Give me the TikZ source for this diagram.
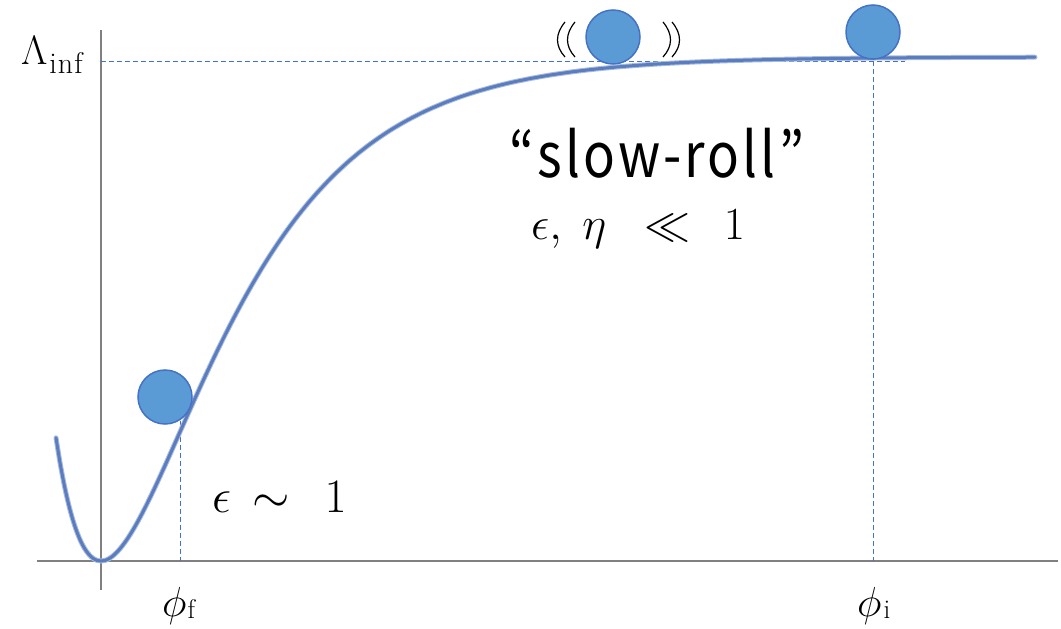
\RequirePackage{fix-cm}
\documentclass[tikz,border=0pt]{standalone}
\usepackage{fontspec}
\newfontfamily\jpfont[LetterSpace=5,FakeStretch=0.85]{Noto Sans CJK JP}
\definecolor{ballfill}{HTML}{5B9BD5}
\definecolor{balledge}{HTML}{4472C4}
\definecolor{curveblue}{HTML}{5B7DBE}
\definecolor{curveglow}{HTML}{A8BCE0}
\definecolor{guideblue}{HTML}{4472C4}
\begin{document}
\begin{tikzpicture}[x=1pt,y=-1pt,
  axis/.style={draw=black!50, line width=1.2pt},
  guide/.style={draw=guideblue, line width=0.9pt, dash pattern=on 5pt off 3pt},
  ball/.style={circle, fill=ballfill, draw=balledge, line width=1.5pt, minimum size=54pt, inner sep=0pt},
  potential/.style={draw=curveblue, line width=3pt, line cap=round},
  glow/.style={draw=curveglow, line width=5pt, line cap=round},
  paren/.style={draw=black, line width=1.2pt},
  lab/.style={inner sep=0pt, font=\fontsize{40}{48}\selectfont}]
\useasboundingbox (0,0) rectangle (1061,629);
% axes
\coordinate (xl) at (37,561);
\coordinate (xr) at (1058,561);
\coordinate (yt) at (101,30);
\coordinate (yb) at (101,590);
\draw[axis] (xl) -- (xr);
\draw[axis] (yt) -- (yb);
% guides
\coordinate (g1) at (101,61);
\coordinate (g2) at (905,61);
\draw[guide] (g1) -- (g2);
\coordinate (vi1) at (873,61);
\coordinate (vi2) at (873,561);
\draw[guide] (vi1) -- (vi2);
\coordinate (vf1) at (180,421);
\coordinate (vf2) at (180,561);
\draw[guide] (vf1) -- (vf2);
% potential
\draw[glow] plot[domain=56:1035, samples=240, smooth] (\x, {561-504*(1-exp(-(\x-101)/112))^2});
\draw[potential] plot[domain=56:1035, samples=240, smooth] (\x, {561-504*(1-exp(-(\x-101)/112))^2});
% balls
\node[ball] (b1) at (165,397) {};
\node[ball] (b2) at (613,37) {};
\node[ball] (b3) at (873,32) {};
% wobble marks
\draw[paren] (565,22) .. controls (555,34) and (555,46) .. (565,57);
\draw[paren] (575,22) .. controls (565,34) and (565,46) .. (575,57);
\draw[paren] (663,22) .. controls (673,34) and (673,46) .. (663,57);
\draw[paren] (672,22) .. controls (682,34) and (682,46) .. (672,57);
% labels
\node[lab, anchor=base west, font=\fontsize{41}{48}\selectfont] (lam) at (21,64)
  {$\Lambda$\kern2pt\raisebox{-9pt}{\fontsize{30}{30}\selectfont i\kern1pt n\kern1pt f}};
\node[lab, anchor=base west, font=\fontsize{42}{48}\selectfont] (phf) at (162,616)
  {$\phi$\kern1pt\raisebox{-2pt}{\fontsize{27}{27}\selectfont f}};
\node[lab, anchor=base west, font=\fontsize{42}{48}\selectfont] (phi) at (857,616)
  {$\phi$\kern2pt\raisebox{-2pt}{\fontsize{27}{27}\selectfont i}};
\node[lab, anchor=base, font=\fontsize{62}{66}\jpfont] (sr) at (657,177) {“slow-roll”};
\node[lab, anchor=base west, font=\fontsize{46}{50}\selectfont] (sc) at (531,239) {$\epsilon,\;\eta\;\;\ll\;\,1$};
\node[lab, anchor=base west, font=\fontsize{48}{52}\selectfont] (e1) at (212,512) {$\epsilon\,\sim\;\,1$};
\end{tikzpicture}
\end{document}
